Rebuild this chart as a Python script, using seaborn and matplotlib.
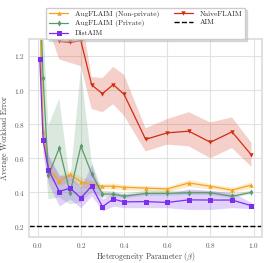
import numpy as np
import matplotlib
matplotlib.use('Agg')
import matplotlib.pyplot as plt
import seaborn as sns

# heterogeneity parameter values
beta = [0.01, 0.025, 0.05, 0.1, 0.15, 0.2, 0.25, 0.3, 0.35, 0.4, 0.5, 0.6, 0.7, 0.8, 0.9, 0.99]

# AugFLAIM (Non-private)
aug_np = [1.45, 0.76, 0.54, 0.466, 0.505, 0.462, 0.445, 0.436, 0.436, 0.43, 0.425, 0.42, 0.455, 0.436, 0.413, 0.443]
aug_np_lo = [1.35, 0.70, 0.48, 0.44, 0.47, 0.43, 0.42, 0.42, 0.42, 0.415, 0.41, 0.405, 0.435, 0.42, 0.40, 0.425]
aug_np_hi = [1.55, 0.82, 0.60, 0.50, 0.53, 0.49, 0.47, 0.45, 0.455, 0.445, 0.44, 0.435, 0.475, 0.45, 0.43, 0.46]

# AugFLAIM (Private)
aug_p = [1.6, 1.07, 0.50, 0.66, 0.397, 0.672, 0.51, 0.39, 0.39, 0.377, 0.394, 0.394, 0.398, 0.398, 0.377, 0.40]
aug_p_lo = [1.2, 0.75, 0.36, 0.37, 0.33, 0.34, 0.40, 0.37, 0.375, 0.365, 0.38, 0.38, 0.385, 0.385, 0.365, 0.39]
aug_p_hi = [2.0, 1.40, 0.79, 0.95, 0.46, 1.12, 0.58, 0.41, 0.405, 0.39, 0.41, 0.41, 0.41, 0.41, 0.39, 0.41]

# DistAIM
dist = [1.18, 0.705, 0.534, 0.405, 0.425, 0.367, 0.437, 0.316, 0.361, 0.344, 0.346, 0.341, 0.356, 0.355, 0.355, 0.322]
dist_lo = [1.14, 0.62, 0.45, 0.32, 0.36, 0.31, 0.38, 0.29, 0.32, 0.31, 0.31, 0.31, 0.30, 0.30, 0.31, 0.305]
dist_hi = [1.22, 0.80, 0.62, 0.50, 0.50, 0.43, 0.565, 0.36, 0.40, 0.39, 0.40, 0.39, 0.42, 0.41, 0.40, 0.34]

# NaiveFLAIM
naive = [2.3, 1.9, 1.5, 1.286, 1.28, 1.29, 1.03, 0.979, 1.032, 0.975, 0.711, 0.749, 0.759, 0.694, 0.755, 0.619]
naive_lo = [2.0, 1.6, 1.36, 1.18, 1.16, 1.14, 0.89, 0.87, 0.917, 0.85, 0.64, 0.68, 0.67, 0.60, 0.66, 0.55]
naive_hi = [2.6, 2.2, 1.7, 1.40, 1.40, 1.45, 1.077, 1.07, 1.136, 1.09, 0.776, 0.83, 0.87, 0.81, 0.84, 0.69]

# AIM baseline
aim = 0.2

sns.set_theme(style='whitegrid')
plt.rcParams['font.family'] = ['serif']
plt.rcParams['font.serif'] = ['cmr10', 'DejaVu Serif']
plt.rcParams['mathtext.fontset'] = 'cm'
plt.rcParams['axes.unicode_minus'] = False
plt.rcParams['axes.formatter.use_mathtext'] = True

fig = plt.figure(figsize=(2.66, 2.63), dpi=100)
ax = fig.add_axes([0.110, 0.100, 0.875, 0.752])

series = [
    ('AugFLAIM (Non-private)', aug_np, aug_np_lo, aug_np_hi, '#f5a41c', '^', 3.2),
    ('AugFLAIM (Private)', aug_p, aug_p_lo, aug_p_hi, '#5c9a6c', 'd', 3.2),
    ('DistAIM', dist, dist_lo, dist_hi, '#7a2ff0', 's', 3.6),
    ('NaiveFLAIM', naive, naive_lo, naive_hi, '#d22c10', 'v', 3.2),
]

for name, y, lo, hi, col, mk, ms in series:
    sns.lineplot(x=beta, y=y, ax=ax, color=col, marker=mk, markersize=ms,
                 linewidth=0.9, markeredgewidth=0, label=name)
    ax.fill_between(beta, lo, hi, color=col, alpha=0.22, linewidth=0)

ax.axhline(aim, color='black', linestyle='--', linewidth=1.0, label='AIM')

ax.set_xlim(-0.039, 1.039)
ax.set_ylim(0.14, 1.30)
ax.set_xticks([0.0, 0.2, 0.4, 0.6, 0.8, 1.0])
ax.set_yticks([0.2, 0.4, 0.6, 0.8, 1.0, 1.2])
ax.tick_params(labelsize=5.2, length=0, pad=3, colors='#555555')
ax.set_xlabel(r'Heterogeneity Parameter ($\beta$)', fontsize=5.6, labelpad=0.5, color='#444444')
ax.set_ylabel('Average Workload Error', fontsize=5.6, labelpad=4, color='#444444')
for s in ax.spines.values():
    s.set_color('#dddddd')
ax.grid(color='#e2e2e2', linewidth=0.8)

handles, labels = ax.get_legend_handles_labels()
ax.legend(handles, labels, loc='upper center', bbox_to_anchor=(0.5, 1.175), ncol=2,
          fontsize=5.3, frameon=True, shadow={'color': '#bbbbbb', 'ox': 1.5, 'oy': -1.5},
          fancybox=False, handlelength=2.6, columnspacing=2.0, labelspacing=0.35,
          borderpad=0.35, handletextpad=0.9, edgecolor='#cccccc', framealpha=1)

fig.savefig('out.png', dpi=100)
